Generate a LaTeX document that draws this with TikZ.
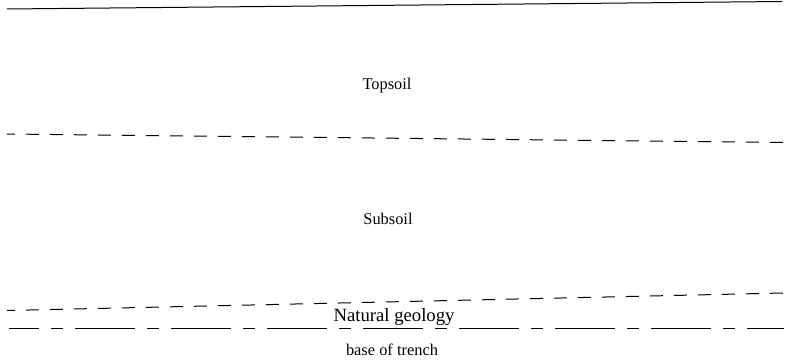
\documentclass[tikz,border=0pt]{standalone}
\usepackage{fontspec}
\setmainfont{Liberation Serif}
\begin{document}
\begin{tikzpicture}[x=1pt,y=-1pt,
  lbl/.style={inner sep=0pt,anchor=base,font=\fontsize{16.4}{18}\selectfont},
  biglbl/.style={inner sep=0pt,anchor=base,font=\fontsize{18.7}{20}\selectfont},
  layerline/.style={line width=1pt},
  boundary/.style={line width=1pt,dash pattern=on 13pt off 11pt,dash phase=5pt},
  trenchbase/.style={line width=1pt,dash pattern=on 60pt off 12pt on 12pt off 12pt,dash phase=30pt}]
\useasboundingbox (0,0) rectangle (787,361);
\coordinate (t1) at (7,9);
\coordinate (t2) at (782,1.5);
\coordinate (d1a) at (7,134);
\coordinate (d1b) at (783,142.5);
\coordinate (d2a) at (7,310.5);
\coordinate (d2b) at (783,293);
\coordinate (ba) at (9,328.3);
\coordinate (bb) at (784,328.3);
\draw[layerline] (t1) -- (t2);
\draw[boundary] (d1a) -- (d1b);
\draw[boundary] (d2a) -- (d2b);
\draw[trenchbase] (ba) -- (bb);
\node[lbl] (topsoil) at (387,89) {Topsoil};
\node[lbl] (subsoil) at (388,224) {Subsoil};
\node[biglbl] (natgeo) at (394,321.5) {Natural geology};
\node[lbl] (base) at (392,355) {base of trench};
\end{tikzpicture}
\end{document}
